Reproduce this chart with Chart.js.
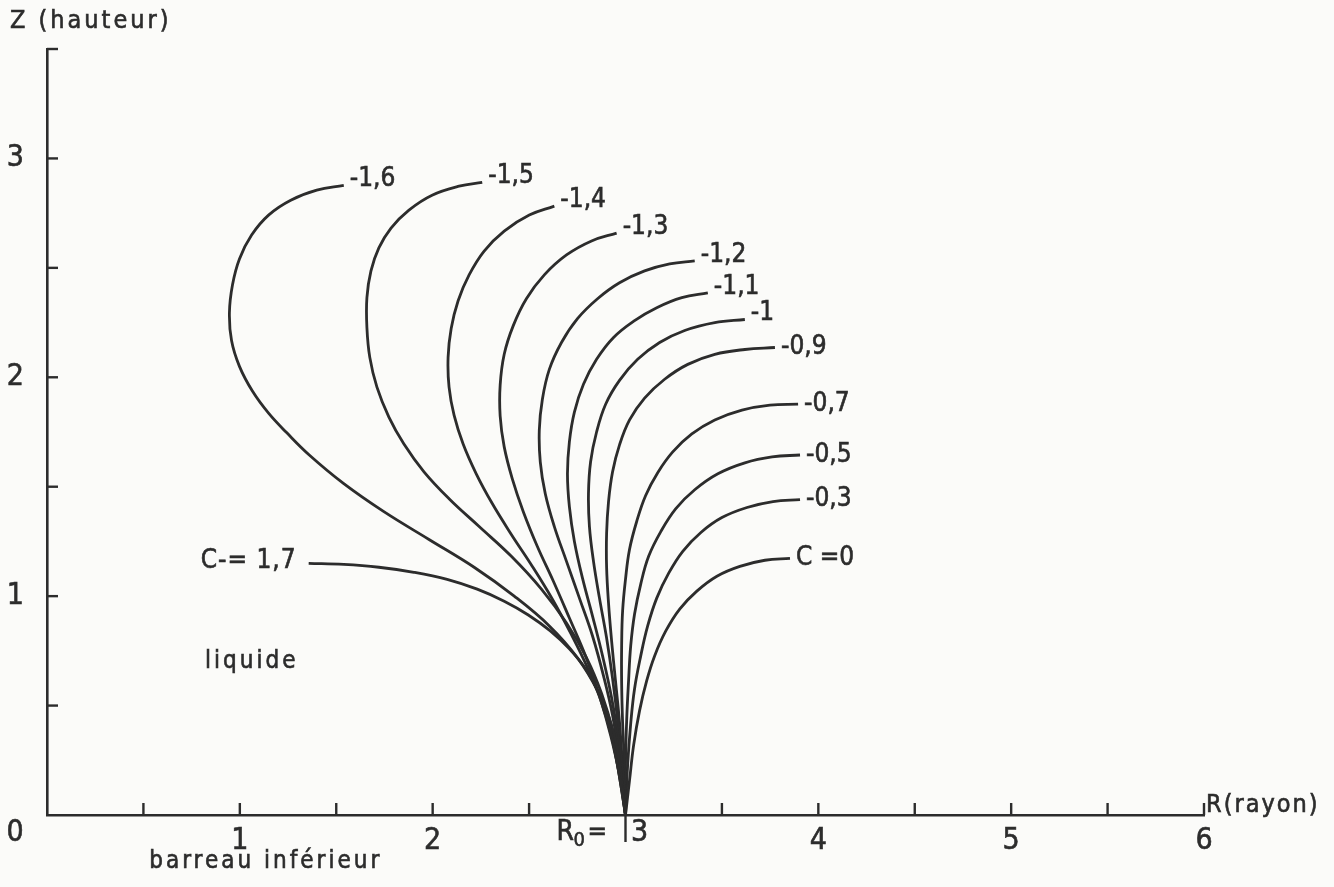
<!DOCTYPE html>
<html>
<head>
<meta charset="utf-8">
<script src="https://cdn.jsdelivr.net/npm/chart.js@4.4.0/dist/chart.umd.min.js"></script>
<style>
html, body { margin: 0; padding: 0; background: #fbfbf9; }
#wrap { width: 1334px; height: 887px; }
</style>
</head>
<body>
<div id="wrap"><canvas id="graph" width="1334" height="887"></canvas></div>
<script>
/* Profils du ménisque : r (rayon) et z (hauteur) pour chaque valeur de C */
var curveLabels = ['C-= 1,7', '-1,6', '-1,5', '-1,4', '-1,3', '-1,2', '-1,1', '-1', '-0,9', '-0,7', '-0,5', '-0,3', 'C =0'];

var r_c17 = [1.357, 1.539, 1.721, 1.903, 2.075, 2.231, 2.371, 2.496, 2.610, 2.709, 2.793, 2.860, 2.912, 2.954, 2.980, 3.0];
var z_c17 = [1.15, 1.145, 1.132, 1.109, 1.077, 1.032, 0.977, 0.914, 0.841, 0.759, 0.668, 0.559, 0.423, 0.25, 0.114, 0];

var r_c16 = [1.539, 1.399, 1.264, 1.149, 1.061, 0.998, 0.962, 0.946, 0.957, 0.998, 1.066, 1.150, 1.245, 1.360, 1.539, 1.747, 1.981, 2.215, 2.423, 2.605, 2.751, 2.855, 2.928, 2.969, 3.0];
var z_c16 = [2.877, 2.855, 2.809, 2.741, 2.65, 2.541, 2.423, 2.295, 2.168, 2.05, 1.936, 1.835, 1.745, 1.645, 1.514, 1.386, 1.259, 1.132, 1.0, 0.864, 0.718, 0.568, 0.409, 0.227, 0];

var r_c15 = [2.257, 2.137, 1.997, 1.877, 1.784, 1.721, 1.680, 1.659, 1.659, 1.674, 1.711, 1.773, 1.851, 1.955, 2.085, 2.241, 2.408, 2.564, 2.694, 2.798, 2.876, 2.933, 2.969, 3.0];
var z_c15 = [2.891, 2.873, 2.832, 2.764, 2.682, 2.591, 2.486, 2.364, 2.227, 2.091, 1.955, 1.818, 1.695, 1.568, 1.445, 1.318, 1.182, 1.032, 0.877, 0.718, 0.555, 0.386, 0.205, 0];

var r_c14 = [2.631, 2.501, 2.371, 2.267, 2.189, 2.132, 2.096, 2.080, 2.085, 2.111, 2.158, 2.226, 2.309, 2.408, 2.517, 2.621, 2.715, 2.803, 2.876, 2.933, 2.969, 3.0];
var z_c14 = [2.782, 2.741, 2.668, 2.577, 2.468, 2.35, 2.223, 2.091, 1.955, 1.827, 1.695, 1.559, 1.423, 1.282, 1.136, 0.986, 0.832, 0.673, 0.514, 0.341, 0.173, 0];

var r_c13 = [2.954, 2.824, 2.694, 2.579, 2.486, 2.418, 2.371, 2.350, 2.350, 2.371, 2.413, 2.470, 2.543, 2.626, 2.709, 2.793, 2.865, 2.923, 2.969, 3.0];
var z_c13 = [2.659, 2.623, 2.559, 2.468, 2.359, 2.236, 2.105, 1.964, 1.823, 1.682, 1.536, 1.386, 1.227, 1.068, 0.9, 0.727, 0.545, 0.364, 0.182, 0];

var r_c12 = [3.359, 3.229, 3.099, 2.969, 2.855, 2.751, 2.668, 2.605, 2.569, 2.553, 2.558, 2.584, 2.631, 2.694, 2.761, 2.829, 2.886, 2.933, 2.969, 3.0];
var z_c12 = [2.532, 2.518, 2.486, 2.432, 2.359, 2.268, 2.159, 2.036, 1.9, 1.759, 1.614, 1.468, 1.318, 1.159, 0.991, 0.818, 0.636, 0.455, 0.25, 0];

var r_c11 = [3.427, 3.292, 3.162, 3.047, 2.938, 2.850, 2.782, 2.735, 2.709, 2.699, 2.709, 2.735, 2.777, 2.829, 2.881, 2.928, 2.964, 2.990, 3.0];
var z_c11 = [2.386, 2.364, 2.318, 2.259, 2.182, 2.082, 1.968, 1.841, 1.705, 1.559, 1.409, 1.25, 1.082, 0.909, 0.727, 0.536, 0.341, 0.159, 0];

var r_c10 = [3.619, 3.463, 3.307, 3.177, 3.063, 2.969, 2.897, 2.850, 2.819, 2.808, 2.813, 2.834, 2.865, 2.902, 2.933, 2.959, 2.980, 3.0];
var z_c10 = [2.264, 2.25, 2.214, 2.159, 2.082, 1.986, 1.877, 1.75, 1.614, 1.468, 1.318, 1.159, 0.991, 0.809, 0.623, 0.432, 0.227, 0];

var r_c09 = [3.775, 3.619, 3.463, 3.323, 3.203, 3.099, 3.021, 2.969, 2.933, 2.912, 2.902, 2.902, 2.912, 2.928, 2.948, 2.969, 2.985, 3.0];
var z_c09 = [2.136, 2.127, 2.105, 2.059, 1.991, 1.905, 1.805, 1.691, 1.568, 1.432, 1.286, 1.132, 0.968, 0.795, 0.614, 0.423, 0.218, 0];

var r_c07 = [3.895, 3.749, 3.604, 3.463, 3.344, 3.245, 3.167, 3.104, 3.058, 3.021, 3.0, 2.985, 2.980, 2.980, 2.985, 2.995, 3.0];
var z_c07 = [1.877, 1.873, 1.85, 1.805, 1.741, 1.659, 1.564, 1.459, 1.341, 1.214, 1.077, 0.932, 0.773, 0.6, 0.423, 0.218, 0];

var r_c05 = [3.905, 3.760, 3.619, 3.479, 3.359, 3.261, 3.183, 3.120, 3.079, 3.047, 3.027, 3.016, 3.006, 3.0, 3.0];
var z_c05 = [1.645, 1.636, 1.609, 1.559, 1.486, 1.4, 1.295, 1.182, 1.055, 0.918, 0.773, 0.614, 0.432, 0.227, 0];

var r_c03 = [3.905, 3.765, 3.630, 3.500, 3.391, 3.297, 3.224, 3.162, 3.115, 3.079, 3.047, 3.027, 3.011, 3.0];
var z_c03 = [1.441, 1.432, 1.405, 1.359, 1.291, 1.205, 1.105, 0.991, 0.864, 0.727, 0.577, 0.418, 0.227, 0];

var r_c00 = [3.853, 3.723, 3.593, 3.474, 3.370, 3.281, 3.209, 3.151, 3.110, 3.073, 3.042, 3.021, 3.0];
var z_c00 = [1.173, 1.164, 1.136, 1.091, 1.023, 0.941, 0.841, 0.727, 0.614, 0.477, 0.318, 0.159, 0];

var curvesR = [r_c17, r_c16, r_c15, r_c14, r_c13, r_c12, r_c11, r_c10, r_c09, r_c07, r_c05, r_c03, r_c00];
var curvesZ = [z_c17, z_c16, z_c15, z_c14, z_c13, z_c12, z_c11, z_c10, z_c09, z_c07, z_c05, z_c03, z_c00];

/* graduations */
var xTickValues = [1, 2, 4, 5, 6];
var xTickLabels = ['1', '2', '4', '5', '6'];
var yTickValues = [1, 2, 3];
var yTickLabels = ['1', '2', '3'];

var ink = '#2c2c2c';
var fontName = "'DejaVu Sans Condensed', 'DejaVu Sans', sans-serif";

function makePoints(r, z) {
	var pts = [];
	for (var i = 0; i < r.length; i++) {
		pts.push({ x: r[i], y: z[i] });
	}
	return pts;
}

var datasets = [];
for (var i = 0; i < curvesR.length; i++) {
	datasets.push({
		label: curveLabels[i],
		data: makePoints(curvesR[i], curvesZ[i]),
		showLine: true,
		borderColor: ink,
		borderWidth: 2.8,
		pointRadius: 0,
		tension: 0.4,
		fill: false
	});
}

function writeText(ctx, txt, x, y, size, align, spacing) {
	ctx.save();
	ctx.font = size + 'px ' + fontName;
	ctx.textAlign = align || 'left';
	ctx.textBaseline = 'middle';
	ctx.letterSpacing = (spacing || 0) + 'px';
	ctx.lineWidth = 0.6;
	ctx.fillText(txt, x, y);
	ctx.strokeText(txt, x, y);
	ctx.restore();
}

/* ticks vers l'intérieur, étiquettes des courbes et textes */
var drawExtras = {
	id: 'drawExtras',
	afterDraw: function(chart) {
		var ctx = chart.ctx;
		var xs = chart.scales.x, ys = chart.scales.y;
		var area = chart.chartArea;
		ctx.save();
		ctx.strokeStyle = ink;
		ctx.fillStyle = ink;
		ctx.lineWidth = 2.4;

		xs.ticks.forEach(function(t) {
			if (t.value <= 0) return;
			var px = xs.getPixelForValue(t.value);
			ctx.beginPath();
			ctx.moveTo(px, area.bottom);
			ctx.lineTo(px, area.bottom - 12);
			ctx.stroke();
		});
		ys.ticks.forEach(function(t) {
			if (t.value <= 0) return;
			var py = ys.getPixelForValue(t.value);
			ctx.beginPath();
			ctx.moveTo(area.left, py);
			ctx.lineTo(area.left + 11, py);
			ctx.stroke();
		});

		/* R0 = |3 */
		var p3 = xs.getPixelForValue(3);
		ctx.beginPath();
		ctx.moveTo(p3, area.bottom);
		ctx.lineTo(p3, area.bottom + 27);
		ctx.stroke();
		writeText(ctx, '3', p3 + 14, area.bottom + 18, 30, 'center', 0);
		writeText(ctx, 'R', p3 - 69, area.bottom + 18, 28, 'left', 0);
		writeText(ctx, '0', p3 - 52, area.bottom + 26, 20, 'left', 0);
		writeText(ctx, '=', p3 - 38, area.bottom + 18, 26, 'left', 0);

		/* origine */
		writeText(ctx, '0', area.left - 32, area.bottom + 18, 30, 'center', 0);

		/* axes */
		writeText(ctx, 'Z (hauteur)', 10, area.top - 28, 25, 'left', 3);
		writeText(ctx, 'R(rayon)', area.right + 2, area.bottom - 10, 25, 'left', 2);
		writeText(ctx, 'liquide', xs.getPixelForValue(0.82), ys.getPixelForValue(0.70), 24, 'left', 3);
		writeText(ctx, 'barreau inférieur', xs.getPixelForValue(0.53), area.bottom + 47, 24, 'left', 3);

		/* étiquettes des courbes */
		chart.data.datasets.forEach(function(ds, i) {
			var pt = chart.getDatasetMeta(i).data[0];
			if (i === 0) {
				writeText(ctx, ds.label, pt.x - 12, pt.y - 2, 26, 'right', 1);
			} else {
				var dy = i <= 7 ? -6 : 0;
				writeText(ctx, ds.label, pt.x + 6, pt.y + dy, 26, 'left', 0);
			}
		});
		ctx.restore();
	}
};

var ctx = document.getElementById('graph');
var myChart = new Chart(ctx, {
	type: 'scatter',
	data: { datasets: datasets },
	options: {
		responsive: false,
		animation: false,
		events: [],
		layout: { padding: { left: 0, right: 130, top: 49, bottom: 0 } },
		plugins: { legend: { display: false }, tooltip: { enabled: false } },
		scales: {
			x: {
				type: 'linear',
				min: 0,
				max: 6,
				grid: { display: false },
				border: { display: true, color: ink, width: 2.6 },
				afterFit: function(scale) { scale.height = 72; },
				ticks: {
					stepSize: 0.5,
					autoSkip: false,
					maxRotation: 0,
					padding: 0,
					color: ink,
					textStrokeColor: ink,
					textStrokeWidth: 0.6,
					font: { family: fontName, size: 30 },
					callback: function(value) {
						var k = xTickValues.indexOf(value);
						return k >= 0 ? xTickLabels[k] : '';
					}
				}
			},
			y: {
				type: 'linear',
				min: 0,
				max: 3.5,
				grid: { display: false },
				border: { display: true, color: ink, width: 2.6 },
				afterFit: function(scale) { scale.width = 47; },
				ticks: {
					stepSize: 0.5,
					autoSkip: false,
					padding: 15,
					color: ink,
					textStrokeColor: ink,
					textStrokeWidth: 0.6,
					font: { family: fontName, size: 30 },
					callback: function(value) {
						var k = yTickValues.indexOf(value);
						return k >= 0 ? yTickLabels[k] : '';
					}
				}
			}
		}
	},
	plugins: [drawExtras]
});
</script>
</body>
</html>
